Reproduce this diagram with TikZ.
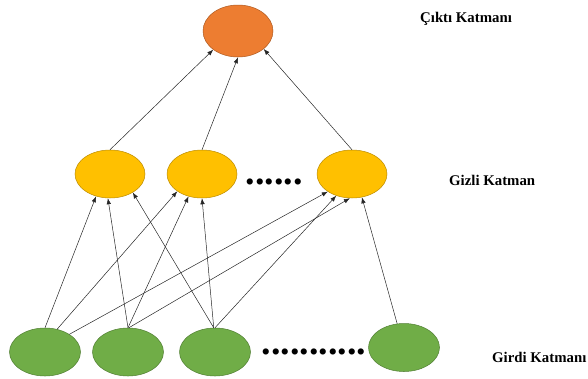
\documentclass[tikz,border=0pt]{standalone}
\usepackage{fontspec}
\setmainfont{Liberation Serif}
\usetikzlibrary{shapes.geometric,arrows.meta}
\definecolor{orfill}{HTML}{ED7D31}
\definecolor{ordraw}{HTML}{AE5A21}
\definecolor{yefill}{HTML}{FFC000}
\definecolor{yedraw}{HTML}{BC8C00}
\definecolor{grfill}{HTML}{70AD47}
\definecolor{grdraw}{HTML}{507E32}
\tikzset{
  neuron/.style={ellipse, minimum width=70pt, minimum height=48pt, inner sep=0pt, line width=0.5pt},
  outn/.style={neuron, fill=orfill, draw=ordraw, minimum height=52pt},
  hidn/.style={neuron, fill=yefill, draw=yedraw},
  inn/.style={neuron, fill=grfill, draw=grdraw, minimum width=71pt},
  conn/.style={draw=black!85, line width=0.5pt, -{Latex[length=6pt,width=4.5pt]}},
  lbl/.style={font=\bfseries\fontsize{14.8}{17}\selectfont, anchor=base west, inner sep=0pt},
  dots/.style={font=\bfseries\fontsize{38}{38}\selectfont, inner sep=0pt}
}
\begin{document}
\begin{tikzpicture}[x=1pt, y=-1pt]
\useasboundingbox (0,0) rectangle (588,378);
\node[outn] (O) at (238,31) {};
\node[hidn] (H1) at (110,174) {};
\node[hidn] (H2) at (202,174) {};
\node[hidn] (H3) at (352,174) {};
\node[inn] (I1) at (45,352) {};
\node[inn] (I2) at (128,352) {};
\node[inn] (I3) at (215,352) {};
\node[inn] (I4) at (404,347.5) {};
\node[dots] (D1) at (274,182) {......};
\node[dots] (D2) at (314,352) {...........};
\node[lbl] (L1) at (420,22) {Çıktı Katmanı};
\node[lbl] (L2) at (449,185.5) {Gizli Katman};
\node[lbl] (L3) at (492,362) {Girdi Katmanı};
% input -> hidden
\draw[conn] (I1.90) -- (H1.-122);
\draw[conn] (I1.62) -- (H2.-145);
\draw[conn] (I1.36) -- (H3.-144);
\draw[conn] (I2.90) -- (H1.-95);
\draw[conn] (I2.90) -- (H2.-121);
\draw[conn] (I2.88) -- (H3.-95);
\draw[conn] (I3.93) -- (H1.-39);
\draw[conn] (I3.93) -- (H2.-90);
\draw[conn] (I3.90) -- (H3.-126);
\draw[conn] (I4.106) -- (H3.-67);
% hidden -> output
\draw[conn] (H1.90) -- (O.-143);
\draw[conn] (H2.90) -- (O.-90);
\draw[conn] (H3.90) -- (O.-35);
\end{tikzpicture}
\end{document}
